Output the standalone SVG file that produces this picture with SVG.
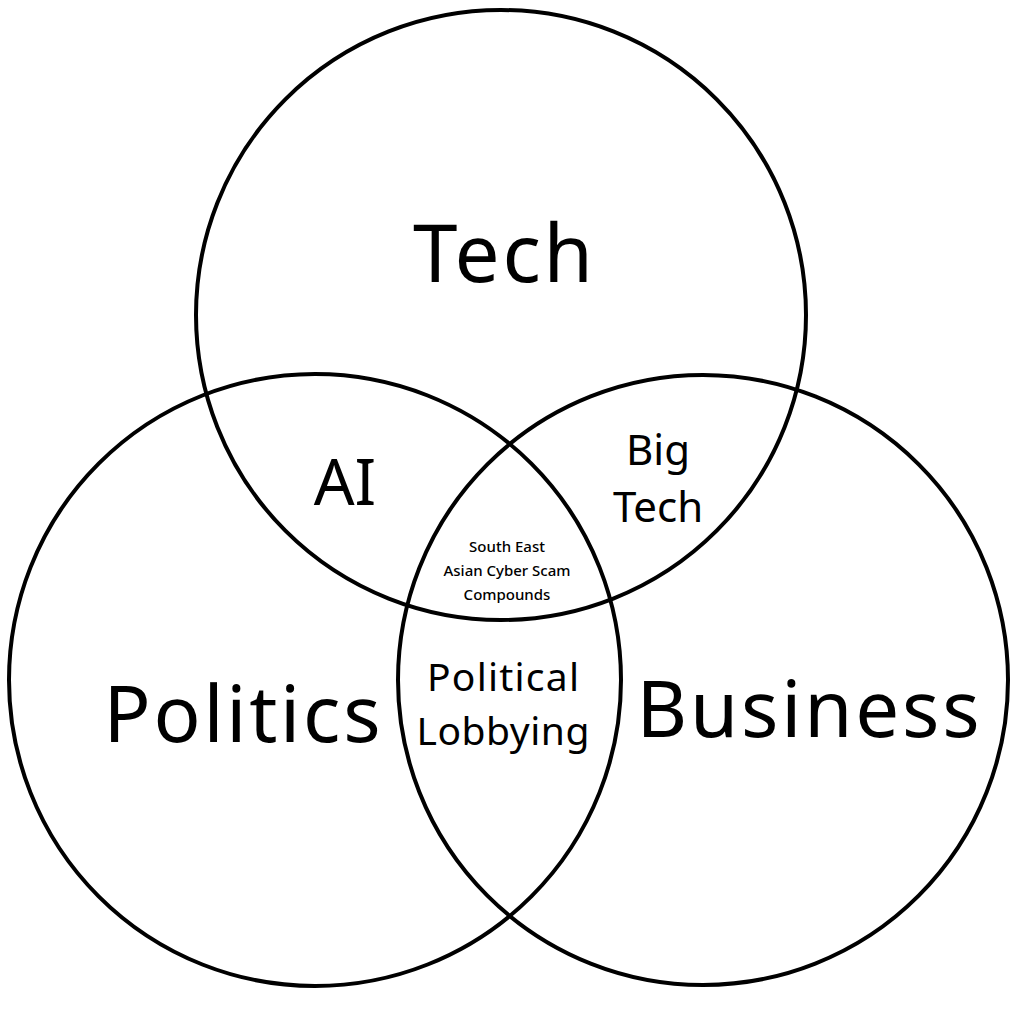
<svg xmlns="http://www.w3.org/2000/svg" width="1020" height="1024" viewBox="0 0 1020 1024">
<style>
.c{fill:none;stroke:#000;stroke-width:4}
text{font-family:"Noto Sans","Open Sans",sans-serif;fill:#000;text-anchor:middle}
</style>
<rect width="1020" height="1024" fill="#fff"/>
<g id="tech"><circle class="c" cx="501" cy="315" r="305"/><text x="503" y="282" font-size="80" textLength="180">Tech</text></g>
<g id="politics"><circle class="c" cx="315" cy="680" r="306"/><text x="242" y="742" font-size="78" textLength="277">Politics</text></g>
<g id="business"><circle class="c" cx="703" cy="680" r="305"/><text x="808" y="737" font-size="78" textLength="343">Business</text></g>
<g id="ai"><text x="345" y="505" font-size="64">AI</text></g>
<g id="bigtech"><text x="658" y="465" font-size="42">Big</text><text x="658" y="522" font-size="42">Tech</text></g>
<g id="scam"><text x="507" y="552" font-size="15" font-weight="500">South East</text><text x="507" y="576" font-size="15" font-weight="500">Asian Cyber Scam</text><text x="507" y="600" font-size="15" font-weight="500">Compounds</text></g>
<g id="lobby"><text x="503" y="691" font-size="39" textLength="152">Political</text><text x="503" y="745" font-size="39" textLength="173">Lobbying</text></g>
<g id="connectors"/>
</svg>
